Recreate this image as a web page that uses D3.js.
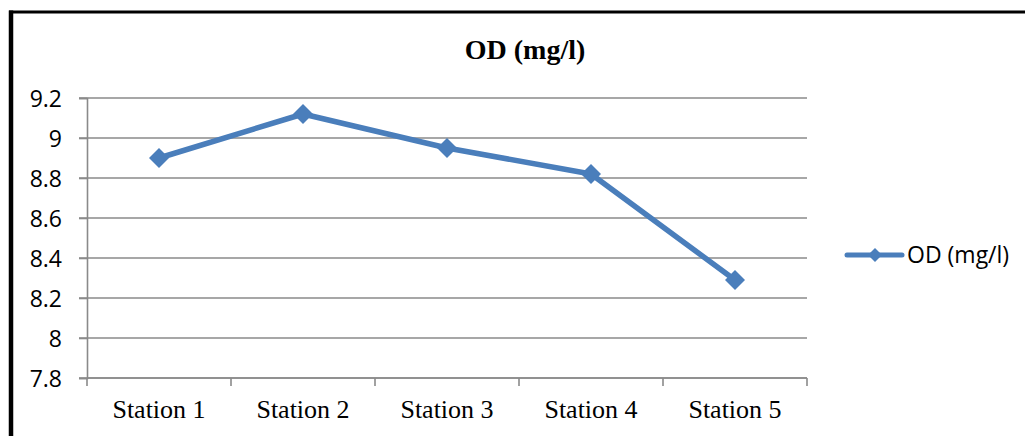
<!DOCTYPE html>
<html>
<head>
<meta charset="utf-8">
<script src="https://cdn.jsdelivr.net/npm/d3@7"></script>
<style>
  html, body { margin: 0; padding: 0; background: #fff; }
  svg { display: block; }
</style>
</head>
<body>
<svg id="chart" width="1025" height="436"></svg>
<script>
// Dissolved oxygen per sampling station
const stations = ["Station 1", "Station 2", "Station 3", "Station 4", "Station 5"];
const odValues = [8.90, 9.12, 8.95, 8.82, 8.29];
const yTicks = [7.8, 8, 8.2, 8.4, 8.6, 8.8, 9, 9.2];
const seriesName = "OD (mg/l)";
const chartTitle = "OD (mg/l)";

const lineColor = "#4a7ebb";
const gridColor = "#8a8a8a";

const svg = d3.select("#chart");

// frame
svg.append("line").attr("x1", 9).attr("x2", 1025).attr("y1", 12).attr("y2", 12)
  .attr("stroke", "#000").attr("stroke-width", 3);
svg.append("line").attr("x1", 11).attr("x2", 11).attr("y1", 10.5).attr("y2", 436)
  .attr("stroke", "#000").attr("stroke-width", 4.5);

const x = d3.scaleBand().domain(stations).range([87, 807]);
const y = d3.scaleLinear().domain([7.8, 9.2]).range([378, 98]);

// horizontal gridlines
svg.append("g").selectAll("line").data(yTicks).join("line")
  .attr("x1", 79).attr("x2", 807)
  .attr("y1", d => y(d)).attr("y2", d => y(d))
  .attr("stroke", gridColor).attr("stroke-width", 1.6);

// y axis
const yAxis = svg.append("g").attr("transform", "translate(87,0)")
  .call(d3.axisLeft(y).tickValues(yTicks).tickFormat(d => String(d)).tickSize(8).tickPadding(17));
yAxis.select(".domain").attr("stroke", gridColor).attr("stroke-width", 1.6);
yAxis.selectAll(".tick line").attr("stroke", gridColor).attr("stroke-width", 1.6);
yAxis.selectAll(".tick text")
  .attr("font-family", "'Open Sans', sans-serif").attr("font-size", 23)
  .attr("fill", "#000").attr("dy", "0.36em");

// x axis with ticks at category boundaries
const xAxis = svg.append("g").attr("transform", "translate(0,378)")
  .call(d3.axisBottom(x).tickSize(0).tickPadding(0));
xAxis.select(".domain").remove();
xAxis.append("line").attr("x1", 87).attr("x2", 807).attr("y1", 0).attr("y2", 0)
  .attr("stroke", gridColor).attr("stroke-width", 1.6);
const bounds = stations.map(s => x(s)).concat([x(stations[stations.length - 1]) + x.bandwidth()]);
xAxis.selectAll(".bound").data(bounds).join("line").attr("class", "bound")
  .attr("x1", d => d).attr("x2", d => d).attr("y1", 0).attr("y2", 8)
  .attr("stroke", gridColor).attr("stroke-width", 1.6);
xAxis.selectAll(".tick text")
  .attr("font-family", "'Liberation Serif', 'Times New Roman', serif").attr("font-size", 26)
  .attr("fill", "#000").attr("y", 40).attr("dy", 0);

// series line
const cx = s => x(s) + x.bandwidth() / 2;
const pts = stations.map((s, i) => [cx(s), y(odValues[i])]);
svg.append("path").datum(pts)
  .attr("d", d3.line())
  .attr("fill", "none").attr("stroke", lineColor).attr("stroke-width", 5.5)
  .attr("stroke-linejoin", "round").attr("stroke-linecap", "round");

// diamond markers
const diamond = d3.symbol().type(d3.symbolSquare).size(200);
svg.append("g").selectAll("path").data(pts).join("path")
  .attr("d", diamond)
  .attr("transform", d => `translate(${d[0]},${d[1]}) rotate(45)`)
  .attr("fill", lineColor);

// title
svg.append("text").attr("x", 525).attr("y", 59).attr("text-anchor", "middle")
  .attr("font-family", "'Liberation Serif', 'Times New Roman', serif")
  .attr("font-weight", "bold").attr("font-size", 28).attr("fill", "#000")
  .text(chartTitle);

// legend
const lg = svg.append("g").attr("transform", "translate(847,255)");
lg.append("line").attr("x1", 0).attr("x2", 55).attr("y1", 0).attr("y2", 0)
  .attr("stroke", lineColor).attr("stroke-width", 5).attr("stroke-linecap", "round");
lg.append("path").attr("d", d3.symbol().type(d3.symbolSquare).size(98))
  .attr("transform", "translate(28,0) rotate(45)").attr("fill", lineColor);
lg.append("text").attr("x", 60).attr("y", 0).attr("dy", "0.36em")
  .attr("font-family", "'Open Sans', sans-serif").attr("font-size", 23).attr("fill", "#000")
  .text(seriesName);
</script>
</body>
</html>
